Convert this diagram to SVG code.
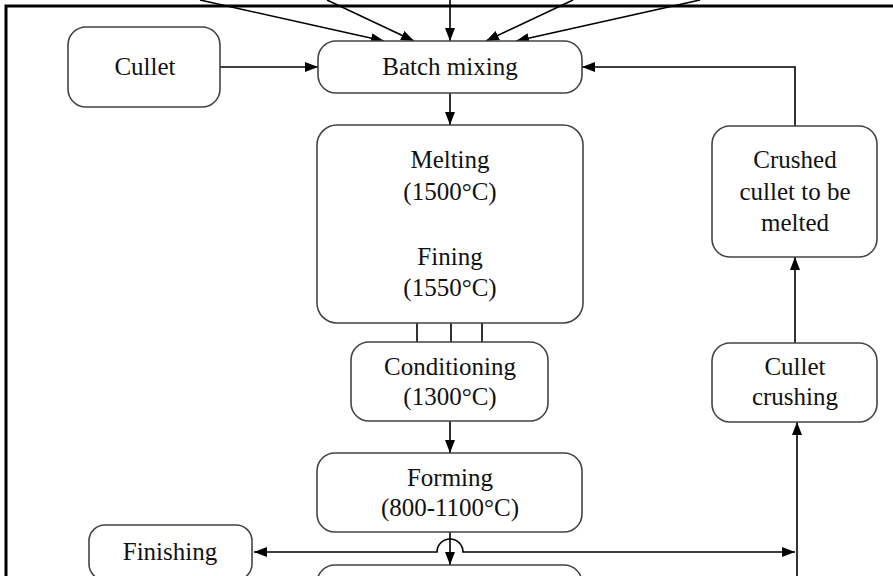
<svg xmlns="http://www.w3.org/2000/svg" width="893" height="576" viewBox="0 0 893 576">
<defs>
<style>
.box{fill:#fff;stroke:#444;stroke-width:1.6}
.t{font-family:"Liberation Serif","Times New Roman",serif;font-size:25px;fill:#111;text-anchor:middle}
.c{fill:none;stroke:#000;stroke-width:1.6}
.frame{fill:none;stroke:#000;stroke-width:3}
</style>
<marker id="ah" markerUnits="userSpaceOnUse" markerWidth="14" markerHeight="10" refX="13" refY="5" orient="auto-start-reverse">
<path d="M0,0 L13,5 L0,10 z" fill="#000"/>
</marker>
</defs>
<rect width="893" height="576" fill="#fff"/>
<path class="frame" d="M6,576 V6 H893"/>
<g id="connectors">
<path class="c" d="M200,0 L384,41" marker-end="url(#ah)"/>
<path class="c" d="M327,0 L414,41" marker-end="url(#ah)"/>
<path class="c" d="M450,0 V41" marker-end="url(#ah)"/>
<path class="c" d="M573,0 L486,41" marker-end="url(#ah)"/>
<path class="c" d="M700,0 L516,41" marker-end="url(#ah)"/>
<path class="c" d="M220,67 H318" marker-end="url(#ah)"/>
<path class="c" d="M450,93 V125" marker-end="url(#ah)"/>
<path class="c" d="M795,126 V67 H582" marker-end="url(#ah)"/>
<path class="c" d="M417,323 V342 M451,323 V342 M482,323 V342"/>
<path class="c" d="M450,421 V453" marker-end="url(#ah)"/>
<path class="c" d="M450,532 V565" marker-end="url(#ah)"/>
<path class="c" d="M254,552 H437 A13,13 0 0 1 463,552 H795" marker-start="url(#ah)" marker-end="url(#ah)"/>
<path class="c" d="M797,576 V422" marker-end="url(#ah)"/>
<path class="c" d="M795,343 V257" marker-end="url(#ah)"/>
</g>
<g id="cullet">
<rect class="box" x="68" y="27" width="152" height="80" rx="18"/>
<text class="t" x="145" y="75">Cullet</text>
</g>
<g id="batch-mixing">
<rect class="box" x="318" y="41" width="264" height="52" rx="18"/>
<text class="t" x="450" y="75">Batch mixing</text>
</g>
<g id="melting-fining">
<rect class="box" x="317" y="125" width="266" height="198" rx="20"/>
<text class="t" x="450" y="168">Melting</text>
<text class="t" x="450" y="200">(1500°C)</text>
<text class="t" x="450" y="265">Fining</text>
<text class="t" x="450" y="296">(1550°C)</text>
</g>
<g id="conditioning">
<rect class="box" x="351" y="342" width="197" height="79" rx="18"/>
<text class="t" x="450" y="375">Conditioning</text>
<text class="t" x="450" y="405">(1300°C)</text>
</g>
<g id="forming">
<rect class="box" x="317" y="453" width="265" height="79" rx="18"/>
<text class="t" x="450" y="486">Forming</text>
<text class="t" x="450" y="516">(800-1100°C)</text>
</g>
<g id="next-step">
<rect class="box" x="317" y="565" width="265" height="40" rx="18"/>
</g>
<g id="finishing">
<rect class="box" x="89" y="525" width="163" height="55" rx="16"/>
<text class="t" x="170" y="560">Finishing</text>
</g>
<g id="crushed-cullet">
<rect class="box" x="712" y="126" width="165" height="131" rx="18"/>
<text class="t" x="795" y="168">Crushed</text>
<text class="t" x="795" y="200">cullet to be</text>
<text class="t" x="795" y="231">melted</text>
</g>
<g id="cullet-crushing">
<rect class="box" x="712" y="343" width="165" height="79" rx="18"/>
<text class="t" x="795" y="375">Cullet</text>
<text class="t" x="795" y="405">crushing</text>
</g>
</svg>
